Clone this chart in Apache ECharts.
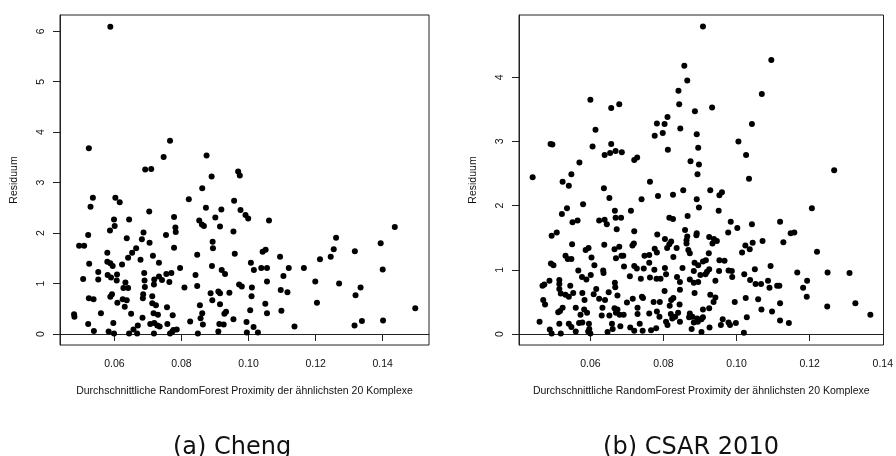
<!DOCTYPE html>
<html>
<head>
<meta charset="utf-8">
<script src="https://cdn.jsdelivr.net/npm/echarts@6/dist/echarts.min.js"></script>
<style>html,body{margin:0;padding:0;background:#fff;}#c{width:896px;height:456px;}</style>
</head>
<body>
<div id="c"></div>
<script>
// ---- Data (Cheng) ----
const chengX = [0.0588,0.0524,0.0692,0.0710,0.0747,0.0766,0.0875,0.0890,0.0862,0.0969,0.0974,0.0536,0.0603,0.0616,0.0822,0.0529,0.0873,0.0919,0.0901,0.0704,
0.0778,0.0599,0.0644,0.0853,0.0861,0.0867,0.0601,0.0915,0.0782,0.0783,0.0587,0.0687,0.0754,0.0522,0.0682,0.0637,0.0705,0.0893,0.0495,0.0510,
0.0665,0.0778,0.0894,0.0653,0.0579,0.0641,0.0715,0.0847,0.0678,0.0579,0.0588,0.0595,0.0733,0.0525,0.0623,0.0891,0.0796,0.0755,0.0689,0.0770,
0.0552,0.0608,0.0580,0.0590,0.0733,0.0719,0.0742,0.0842,0.0507,0.0552,0.0607,0.0690,0.0764,0.0633,0.0718,0.0847,0.0809,0.0627,0.0641,0.0691,
0.0915,0.0910,0.0887,0.0943,0.0593,0.0588,0.0686,0.0713,0.0685,0.0524,0.0538,0.0892,0.0625,0.0637,0.0609,0.0713,0.0724,0.0915,0.0855,0.0631,
0.0757,0.0560,0.0650,0.0717,0.0730,0.0862,0.0933,0.0928,0.0480,0.0481,0.0774,0.0857,0.0684,0.0522,0.0597,0.0707,0.0719,0.0826,0.0758,0.0864,
0.0913,0.0926,0.0670,0.0728,0.0735,0.0657,0.0786,0.0776,0.0539,0.0583,0.0599,0.0644,0.0668,0.0718,0.0766,0.0849,0.0910,0.0773,
0.0957,0.0976,0.0991,0.0999,0.1061,0.0955,0.1436,0.1261,0.1394,0.1254,0.1317,0.1042,0.1051,0.0959,0.1094,0.1245,0.1213,0.1007,0.1016,0.1038,
0.1055,0.1120,0.1165,0.1400,0.0920,0.0930,0.1104,0.1199,0.1270,0.1055,0.0972,0.0980,0.1010,0.1096,0.1116,0.1334,0.1319,0.1009,0.1050,0.1204,
0.1055,0.1005,0.1098,0.1497,0.0955,0.0994,0.1015,0.1137,0.1316,0.1338,0.1401,0.0995,0.1028];
const chengY = [6.09,3.68,3.26,3.27,3.51,3.83,3.54,3.12,2.89,3.22,3.14,2.70,2.70,2.61,2.67,2.52,2.50,2.47,2.31,2.43,
2.32,2.27,2.27,2.25,2.17,2.14,2.14,2.13,2.11,2.02,2.05,2.01,1.96,1.96,1.88,1.90,1.81,1.83,1.75,1.75,
1.70,1.71,1.70,1.61,1.61,1.51,1.55,1.57,1.47,1.43,1.40,1.35,1.41,1.39,1.38,1.35,1.31,1.19,1.21,1.21,
1.23,1.18,1.17,1.12,1.14,1.08,1.07,1.17,1.09,1.08,1.06,1.06,1.03,1.02,0.98,0.95,0.92,0.91,0.91,0.93,
0.81,0.84,0.81,0.82,0.79,0.74,0.79,0.75,0.71,0.71,0.69,0.67,0.69,0.67,0.62,0.61,0.57,0.59,0.57,0.54,
0.53,0.41,0.40,0.41,0.38,0.41,0.44,0.40,0.39,0.34,0.37,0.31,0.32,0.20,0.22,0.20,0.22,0.25,0.20,0.19,
0.20,0.19,0.17,0.17,0.15,0.09,0.09,0.08,0.06,0.05,0.01,0.01,0.01,0.01,0.01,0.01,0.05,0.05,
2.64,2.46,2.36,2.29,2.25,2.03,2.12,1.91,1.80,1.68,1.64,1.63,1.67,1.59,1.53,1.53,1.48,1.41,1.27,1.31,
1.31,1.31,1.31,1.28,1.27,1.19,1.15,1.04,1.00,1.04,0.98,0.94,0.92,0.87,0.83,0.92,0.77,0.75,0.60,0.62,
0.41,0.47,0.46,0.51,0.29,0.24,0.14,0.15,0.17,0.26,0.27,0.03,0.03];

// ---- Data (CSAR 2010) ----
const csarX = [0.0442,0.0491,0.0496,0.0600,0.0614,0.0606,0.0657,0.0679,0.0657,0.0639,0.0654,0.0669,0.0686,0.0570,0.0720,0.0728,0.0524,0.0541,0.0548,0.0637,
0.0763,0.0776,0.0782,0.0798,0.0803,0.0811,0.0812,0.0841,0.0843,0.0846,0.0785,0.0826,0.0652,0.0740,0.0908,0.1095,0.0857,0.0865,0.1069,0.0886,
0.0933,0.1042,0.0891,0.0895,0.1005,0.1026,0.0874,0.0897,0.0893,0.1034,0.1267,0.0854,0.0928,0.0960,0.0953,0.0891,0.0580,0.0536,0.0522,0.0551,
0.0565,0.0494,0.0508,0.0667,0.0684,0.0669,0.0711,0.0624,0.0639,0.0645,0.0672,0.0720,0.0816,0.0826,0.0783,0.0804,0.0821,0.0816,0.0550,0.0638,
0.0679,0.0666,0.0719,0.0715,0.0595,0.0587,0.0776,0.0782,0.0810,0.0836,0.0748,0.0761,0.0532,0.0538,0.0548,0.0603,0.0670,0.0685,0.0690,0.0827,
0.0761,0.0492,0.0499,0.0611,0.0692,0.0720,0.0727,0.0746,0.0775,0.0804,0.0852,0.0635,0.0636,0.0567,0.0577,0.0589,0.0708,0.0738,0.0763,0.0781,
0.0792,0.0807,0.0837,0.0845,0.0601,0.0469,0.0474,0.0488,0.0515,0.0515,0.0515,0.0519,0.0545,0.0532,0.0541,0.0553,0.0616,0.0609,0.0624,0.0640,
0.0650,0.0667,0.0668,0.0674,0.0578,0.0584,0.0471,0.0476,0.0803,0.0845,0.0827,0.0821,0.0741,0.0744,0.0716,0.0700,0.0773,0.0790,0.0817,0.0844,
0.0524,0.0517,0.0512,0.0560,0.0583,0.0591,0.0573,0.0633,0.0666,0.0674,0.0670,0.0680,0.0691,0.0631,0.0652,0.0729,0.0729,0.0761,0.0782,0.0789,
0.0820,0.0832,0.0824,0.0845,0.0807,0.0811,0.0735,0.0461,0.0515,0.0541,0.0548,0.0569,0.0578,0.0596,0.0597,0.0594,0.0600,0.0560,0.0489,0.0494,
0.0519,0.0659,0.0661,0.0647,0.0682,0.0709,0.0720,0.0743,0.0766,0.0780,
0.0897,0.0951,0.0866,0.1206,0.0984,0.1042,0.1119,0.1002,0.0977,0.0859,0.1148,0.1158,0.0891,0.0890,0.0865,0.0863,0.0863,0.0925,0.0938,0.0946,
0.0934,0.1071,0.1128,0.1024,0.1036,0.1044,0.1015,0.1220,0.0868,0.0872,0.0924,0.0953,0.0967,0.0916,0.0908,0.0885,0.0895,0.1093,0.1050,0.0952,
0.0978,0.0987,0.0925,0.0919,0.0883,0.1166,0.1249,0.1309,0.1021,0.0988,0.0901,0.0915,0.0872,0.0883,0.0895,0.0942,0.1037,0.1052,0.1067,0.1086,
0.1090,0.1111,0.1117,0.1193,0.1182,0.1192,0.0885,0.0928,0.0942,0.0937,0.1025,0.1059,0.0995,0.1119,0.1248,0.1325,0.1366,0.0908,0.0925,0.1068,
0.1097,0.0840,0.0872,0.0879,0.0870,0.1028,0.0892,0.0904,0.0908,0.0883,0.0894,0.0962,0.0957,0.0978,0.0982,0.0998,0.0926,0.0877,0.0904,0.1020,
0.1119,0.1143];
const csarY = [2.44,2.96,2.95,3.65,3.18,2.92,3.52,3.58,2.96,2.79,2.82,2.85,2.83,2.67,2.71,2.75,2.37,2.31,2.49,2.27,
2.37,3.09,3.28,3.13,3.27,3.38,2.87,3.79,3.58,3.20,2.15,2.17,2.12,2.10,4.79,4.27,4.18,3.95,3.74,3.47,
3.53,3.27,3.11,2.90,3.00,2.79,2.69,2.64,2.49,2.42,2.55,2.24,2.24,2.21,2.16,2.10,2.02,1.96,1.87,1.74,
1.77,1.53,1.58,1.92,1.81,1.81,1.92,1.77,1.78,1.71,1.63,1.60,1.81,1.79,1.55,1.48,1.44,1.40,1.40,1.39,
1.36,1.32,1.41,1.38,1.34,1.31,1.33,1.27,1.34,1.34,1.22,1.23,1.22,1.17,1.17,1.19,1.18,1.22,1.22,1.20,
1.11,1.10,1.07,1.07,1.05,1.06,1.02,1.02,1.00,1.03,1.03,0.99,0.95,0.99,0.89,0.85,0.90,0.86,0.88,0.86,
0.86,0.93,0.89,0.81,0.92,0.75,0.77,0.83,0.84,0.78,0.70,0.63,0.75,0.61,0.58,0.64,0.70,0.62,0.55,0.53,
0.65,0.80,0.73,0.60,0.64,0.53,0.53,0.46,0.67,0.69,0.56,0.53,0.58,0.56,0.55,0.49,0.50,0.50,0.44,0.46,
0.41,0.36,0.34,0.41,0.38,0.33,0.30,0.41,0.40,0.38,0.33,0.30,0.30,0.29,0.29,0.41,0.31,0.32,0.35,0.27,
0.31,0.27,0.24,0.19,0.19,0.14,0.16,0.19,0.16,0.16,0.11,0.17,0.18,0.16,0.08,0.04,0.01,0.04,0.07,0.01,
0.01,0.16,0.08,0.03,0.12,0.10,0.05,0.05,0.06,0.09,
1.97,1.92,1.84,1.96,1.75,1.71,1.75,1.65,1.58,1.62,1.57,1.58,1.57,1.54,1.52,1.46,1.41,1.51,1.48,1.45,
1.41,1.45,1.43,1.38,1.32,1.42,1.27,1.28,1.31,1.26,1.26,1.15,1.14,1.15,1.13,1.11,1.07,1.06,1.01,0.98,
0.99,0.98,1.01,0.97,0.98,0.96,0.96,0.95,0.93,0.89,0.92,0.93,0.85,0.80,0.81,0.83,0.84,0.78,0.78,0.83,
0.72,0.75,0.75,0.83,0.72,0.58,0.64,0.61,0.57,0.50,0.56,0.54,0.50,0.48,0.43,0.48,0.30,0.38,0.40,0.38,
0.35,0.33,0.32,0.27,0.26,0.26,0.24,0.23,0.26,0.18,0.19,0.23,0.14,0.18,0.14,0.17,0.10,0.08,0.03,0.02,
0.21,0.17];

const xTicks = [0.06, 0.08, 0.10, 0.12, 0.14];
const chengYTicks = [0, 1, 2, 3, 4, 5, 6];
const csarYTicks = [0, 1, 2, 3, 4];
const xTitle = 'Durchschnittliche RandomForest Proximity der ähnlichsten 20 Komplexe';
const yTitle = 'Residuum';
const captions = ['(a) Cheng', '(b) CSAR 2010'];

const zip = (xs, ys) => xs.map((v, i) => [v, ys[i]]);

const FONT = 'Liberation Sans';
function xAxisDef(grid, min, max) {
  return {
    gridIndex: grid, type: 'value', min: min, max: max,
    splitLine: { show: false },
    axisLine: { show: true, lineStyle: { color: '#222', width: 1 } },
    axisTick: { show: true, length: 7, customValues: xTicks, lineStyle: { color: '#222' } },
    axisLabel: { customValues: xTicks, formatter: v => v.toFixed(2), fontSize: 10.5, color: '#111', margin: 14, fontFamily: FONT },
    name: xTitle, nameLocation: 'middle', nameGap: 41,
    nameTextStyle: { fontSize: 10.5, color: '#111', fontFamily: FONT }
  };
}
function yAxisDef(grid, min, max, ticks) {
  return {
    gridIndex: grid, type: 'value', min: min, max: max,
    splitLine: { show: false },
    axisLine: { show: true, lineStyle: { color: '#222', width: 1 } },
    axisTick: { show: true, length: 7, customValues: ticks, lineStyle: { color: '#222' } },
    axisLabel: { customValues: ticks, formatter: v => String(v), rotate: 90, fontSize: 10.5, color: '#111', margin: 13, fontFamily: FONT },
    name: yTitle, nameLocation: 'middle', nameGap: 40, nameRotate: 90,
    nameTextStyle: { fontSize: 10.5, color: '#111', fontFamily: FONT }
  };
}

const chart = echarts.init(document.getElementById('c'), null, { renderer: 'canvas' });
chart.setOption({
  animation: false,
  backgroundColor: '#fff',
  grid: [
    { left: 60, top: 15, width: 369, height: 330, show: true, borderColor: '#222', borderWidth: 1, containLabel: false },
    { left: 519, top: 15, width: 370, height: 330, show: true, borderColor: '#222', borderWidth: 1, containLabel: false }
  ],
  xAxis: [ xAxisDef(0, 0.0438, 0.1538), xAxisDef(1, 0.04047, 0.1402) ],
  yAxis: [ yAxisDef(0, -0.218, 6.323, chengYTicks), yAxisDef(1, -0.171, 4.969, csarYTicks) ],
  series: [
    { type: 'scatter', xAxisIndex: 0, yAxisIndex: 0, data: zip(chengX, chengY), symbol: 'circle', symbolSize: 6, itemStyle: { color: '#000', opacity: 1 } },
    { type: 'scatter', xAxisIndex: 1, yAxisIndex: 1, data: zip(csarX, csarY), symbol: 'circle', symbolSize: 6, itemStyle: { color: '#000', opacity: 1 } }
  ],
  graphic: [
    { type: 'text', x: 232, y: 448, style: { text: captions[0], fontSize: 24, fontFamily: 'DejaVu Sans', fill: '#111', textAlign: 'center', textVerticalAlign: 'middle' } },
    { type: 'text', x: 691, y: 448, style: { text: captions[1], fontSize: 24, fontFamily: 'DejaVu Sans', fill: '#111', textAlign: 'center', textVerticalAlign: 'middle' } }
  ]
});
</script>
</body>
</html>
